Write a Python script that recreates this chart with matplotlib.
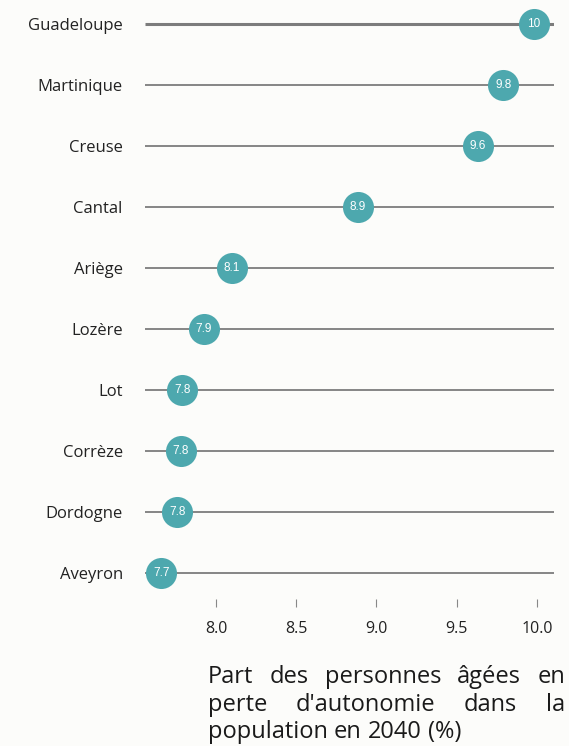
import matplotlib
matplotlib.use("Agg")
import matplotlib.pyplot as plt

departements = ["Guadeloupe", "Martinique", "Creuse", "Cantal", "Ariège",
                "Lozère", "Lot", "Corrèze", "Dordogne", "Aveyron"]
valeurs = [9.98, 9.79, 9.63, 8.885, 8.10, 7.925, 7.79, 7.78, 7.76, 7.66]
xticks = [8.0, 8.5, 9.0, 9.5, 10.0]
xlabel_lines = ["Part des personnes âgées en",
                "perte d'autonomie dans la",
                "population en 2040 (%)"]

W, H = 569, 746
BG = "#fcfcfa"
TEAL = "#4da8ae"
LINE = "#7c7c7c"
FONT = "Open Sans"

fig = plt.figure(figsize=(W / 100, H / 100), dpi=100, facecolor=BG)
ax = fig.add_axes([145 / W, 1 - 599 / H, 409 / W, 599 / H])
ax.set_facecolor(BG)

n = len(departements)
ys = list(range(n))
xmin, xmax = 7.558, 10.106
for i, (y, v) in enumerate(zip(ys, valeurs)):
    ax.plot([xmin, xmax], [y, y], color=LINE, lw=2.2 if i == 0 else 1.3,
            solid_capstyle="butt", zorder=1)
ax.scatter(valeurs, ys, s=31 ** 2 * 0.52, color=TEAL, zorder=3, linewidths=0)
for y, v in zip(ys, valeurs):
    ax.text(v, y, f"{round(v, 1):g}", color="white", ha="center", va="center",
            fontsize=8.5, family="Liberation Sans", zorder=4)

ax.set_xlim(xmin, xmax)
ax.set_ylim(n - 1 + 26 / 61, -24 / 61)
ax.set_yticks(ys)
ax.set_yticklabels(departements, family=FONT, fontsize=12, color="#222222")
ax.tick_params(axis="y", length=0, pad=16)
ax.set_xticks(xticks)
ax.set_xticklabels([f"{t:.1f}" for t in xticks], family=FONT, fontsize=11.5,
                   color="#222222")
ax.tick_params(axis="x", length=6, width=0.8, color="#888888", pad=10,
               direction="out")
for s in ax.spines.values():
    s.set_visible(False)

# justified x label
fig.canvas.draw()
r = fig.canvas.get_renderer()
x0, x1 = 208, 565
base_y = [683, 711, 738]
FS = 17
for li, (line, yb) in enumerate(zip(xlabel_lines, base_y)):
    words = line.split(" ")
    texts = [fig.text(0, 1 - yb / H, w, fontsize=FS, family=FONT,
                      color="#1a1a1a", va="baseline", ha="left") for w in words]
    widths = [t.get_window_extent(r).width for t in texts]
    if li < len(xlabel_lines) - 1:
        gap = (x1 - x0 - sum(widths)) / (len(words) - 1)
    else:
        sp = fig.text(0, 0, "a a", fontsize=FS, family=FONT)
        aa = fig.text(0, 0, "aa", fontsize=FS, family=FONT)
        gap = sp.get_window_extent(r).width - aa.get_window_extent(r).width
        sp.remove(); aa.remove()
    x = x0
    for t, w in zip(texts, widths):
        t.set_x(x / W)
        x += w + gap

fig.savefig("out.png", dpi=100, facecolor=BG)
